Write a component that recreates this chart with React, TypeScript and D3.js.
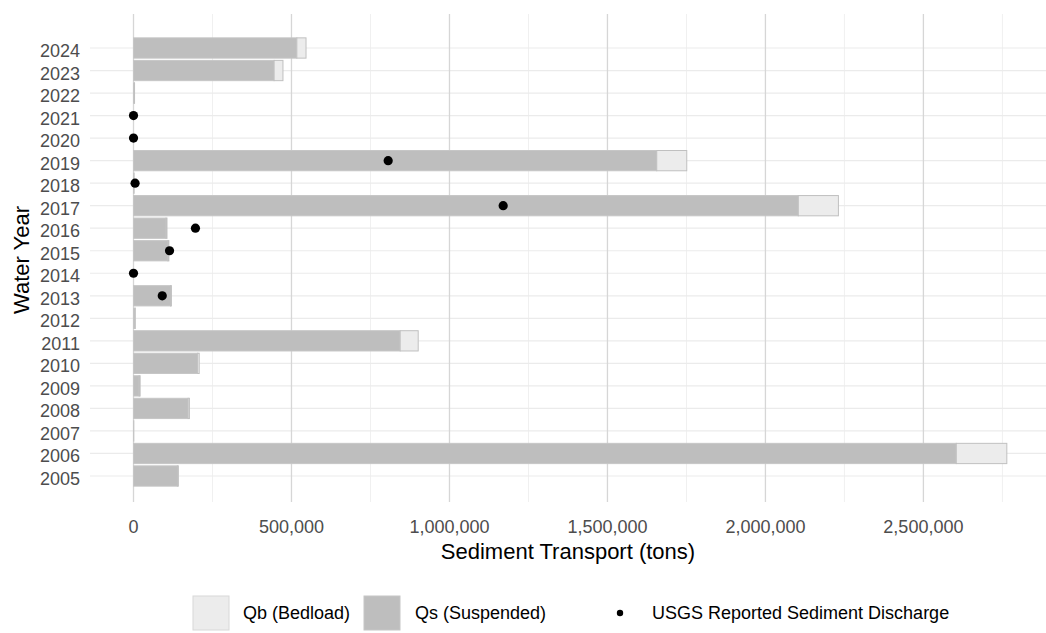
import React from "react";
import * as d3 from "d3";

const years = [2024, 2023, 2022, 2021, 2020, 2019, 2018, 2017, 2016, 2015, 2014, 2013, 2012, 2011, 2010, 2009, 2008, 2007, 2006, 2005];
const qsValues = [517000, 445000, 3000, 0, 0, 1656000, 2000, 2104000, 103000, 109000, 0, 117000, 5000, 844000, 203000, 18000, 173000, 1000, 2604000, 139000];
const qbValues = [29000, 28000, 300, 0, 0, 95000, 0, 127000, 3000, 3000, 0, 3000, 300, 57000, 5000, 3000, 4000, 0, 160000, 3000];
const usgsValues: (number | null)[] = [null, null, null, 0, 0, 806000, 5000, 1170000, 196000, 114000, 0, 91000, null, null, null, null, null, null, null, null];
const xTicks = [0, 500000, 1000000, 1500000, 2000000, 2500000];
const xMinorTicks = [250000, 750000, 1250000, 1750000, 2250000, 2750000];

const FONT = "'Liberation Sans', Arial, sans-serif";

export default function App() {
  const W = 1046;
  const H = 633;
  const x = d3.scaleLinear().domain([-137700, 2888000]).range([90, 1046]);
  const y = d3.scalePoint<number>().domain(years).range([48, 476]);
  const step = y.step();
  const bh = step * 0.9;
  const panelTop = 14;
  const panelBottom = 502;
  const fmt = d3.format(",");

  return (
    <svg width={W} height={H} style={{ position: "absolute", left: 0, top: 0, background: "#fff" }} fontFamily={FONT}>
      <rect x={0} y={0} width={W} height={H} fill="#fff" />
      {/* minor vertical grid */}
      {xMinorTicks.map((t) => (
        <line key={"mn" + t} x1={x(t)} x2={x(t)} y1={panelTop} y2={panelBottom} stroke="#f0f0f0" strokeWidth={1} />
      ))}
      {/* horizontal grid */}
      {years.map((yr) => (
        <line key={"hg" + yr} x1={90} x2={W} y1={y(yr)} y2={y(yr)} stroke="#ebebeb" strokeWidth={1.2} />
      ))}
      {/* major vertical grid */}
      {xTicks.map((t) => (
        <line key={"mj" + t} x1={x(t)} x2={x(t)} y1={panelTop} y2={panelBottom} stroke="#d6d6d6" strokeWidth={1.3} />
      ))}
      {/* bars */}
      {years.map((yr, i) => {
        const qs = qsValues[i];
        const qb = qbValues[i];
        const yc = y(yr)!;
        return (
          <g key={"b" + yr}>
            {qs > 0 && (
              <rect x={x(0)} y={yc - bh / 2} width={x(qs) - x(0)} height={bh} fill="#bebebe" stroke="#c6c6c6" strokeWidth={1} />
            )}
            {qb > 0 && (
              <rect x={x(qs)} y={yc - bh / 2} width={x(qs + qb) - x(qs)} height={bh} fill="#ececec" stroke="#c0c0c0" strokeWidth={1} />
            )}
          </g>
        );
      })}
      {/* points */}
      {years.map((yr, i) => {
        const v = usgsValues[i];
        if (v === null) return null;
        return <circle key={"p" + yr} cx={x(v)} cy={y(yr)} r={4.6} fill="#000" />;
      })}
      {/* y tick labels */}
      {years.map((yr) => (
        <text key={"yl" + yr} x={80} y={y(yr)! + 9} textAnchor="end" fontSize={18} fill="#4d4d4d">
          {yr}
        </text>
      ))}
      {/* x tick labels */}
      {xTicks.map((t) => (
        <text key={"xl" + t} x={x(t)} y={533} textAnchor="middle" fontSize={18} fill="#4d4d4d">
          {fmt(t)}
        </text>
      ))}
      {/* axis titles */}
      <text x={568} y={559} textAnchor="middle" fontSize={22} fill="#000">
        Sediment Transport (tons)
      </text>
      <text transform={`translate(29,${260}) rotate(-90)`} textAnchor="middle" fontSize={22} fill="#000">
        Water Year
      </text>
      {/* legend */}
      <g>
        <rect x={193} y={596} width={36} height={34} fill="#ececec" stroke="#d8d8d8" strokeWidth={1} />
        <text x={243} y={619} fontSize={18} fill="#000">Qb (Bedload)</text>
        <rect x={364} y={596} width={36} height={34} fill="#bebebe" stroke="#c6c6c6" strokeWidth={1} />
        <text x={415} y={619} fontSize={18} fill="#000">Qs (Suspended)</text>
        <circle cx={620} cy={613} r={3.2} fill="#000" />
        <text x={652} y={619} fontSize={18} fill="#000">USGS Reported Sediment Discharge</text>
      </g>
    </svg>
  );
}
